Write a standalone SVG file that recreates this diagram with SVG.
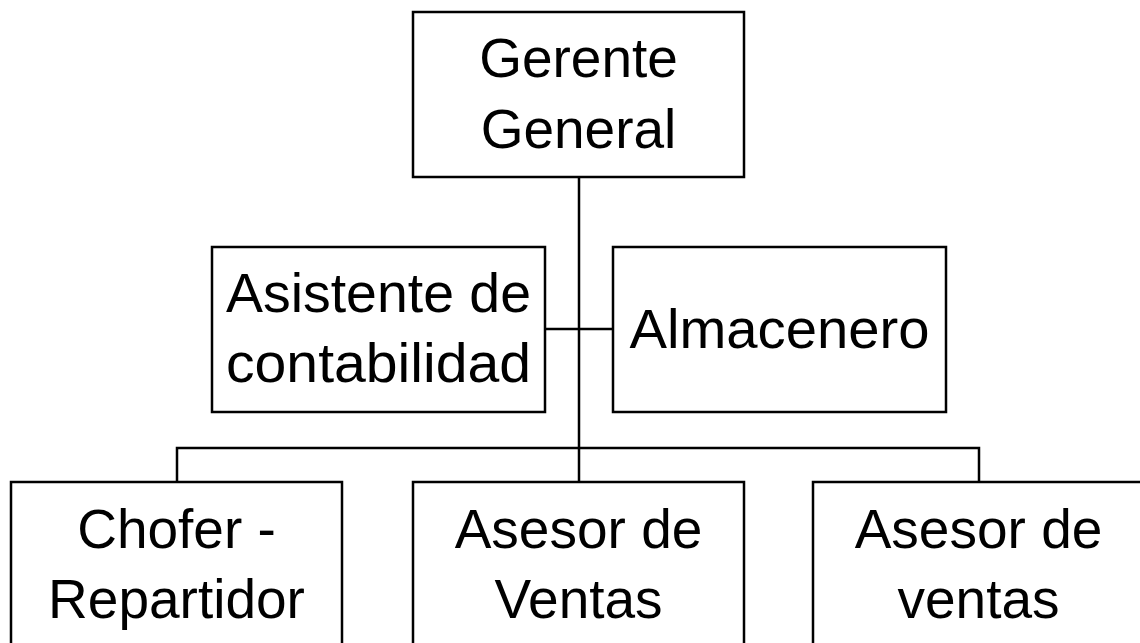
<svg xmlns="http://www.w3.org/2000/svg" width="1140" height="643" viewBox="0 0 1140 643">
<style>
.box{fill:#fff;stroke:#000;stroke-width:2.5}
.ln{fill:none;stroke:#000;stroke-width:2.5}
.t{font-family:"Liberation Sans",Arial,sans-serif;font-size:55px;fill:#000;text-anchor:middle}
</style>
<rect width="1140" height="643" fill="#fff"/>
<g id="connectors">
<path class="ln" d="M579,177 V448"/>
<path class="ln" d="M545,329 H612"/>
<path class="ln" d="M177,482 V448 H979 V482"/>
<path class="ln" d="M579,448 V482"/>
</g>
<g id="gerente">
<rect class="box" x="413" y="12" width="331" height="165"/>
<text class="t" x="578.5" y="77">Gerente</text>
<text class="t" x="578.5" y="148">General</text>
</g>
<g id="asistente">
<rect class="box" x="212" y="247" width="333" height="165"/>
<text class="t" x="378.5" y="312" textLength="305" lengthAdjust="spacingAndGlyphs">Asistente de</text>
<text class="t" x="378.5" y="382" textLength="305" lengthAdjust="spacingAndGlyphs">contabilidad</text>
</g>
<g id="almacenero">
<rect class="box" x="613" y="247" width="333" height="165"/>
<text class="t" x="779.5" y="348" textLength="300" lengthAdjust="spacingAndGlyphs">Almacenero</text>
</g>
<g id="chofer">
<rect class="box" x="11" y="482" width="331" height="170"/>
<text class="t" x="176.5" y="548">Chofer -</text>
<text class="t" x="176.5" y="618">Repartidor</text>
</g>
<g id="asesor1">
<rect class="box" x="413" y="482" width="331" height="170"/>
<text class="t" x="578.5" y="548">Asesor de</text>
<text class="t" x="578.5" y="618">Ventas</text>
</g>
<g id="asesor2">
<rect class="box" x="813" y="482" width="340" height="170"/>
<text class="t" x="978.5" y="548">Asesor de</text>
<text class="t" x="978.5" y="618">ventas</text>
</g>
</svg>
